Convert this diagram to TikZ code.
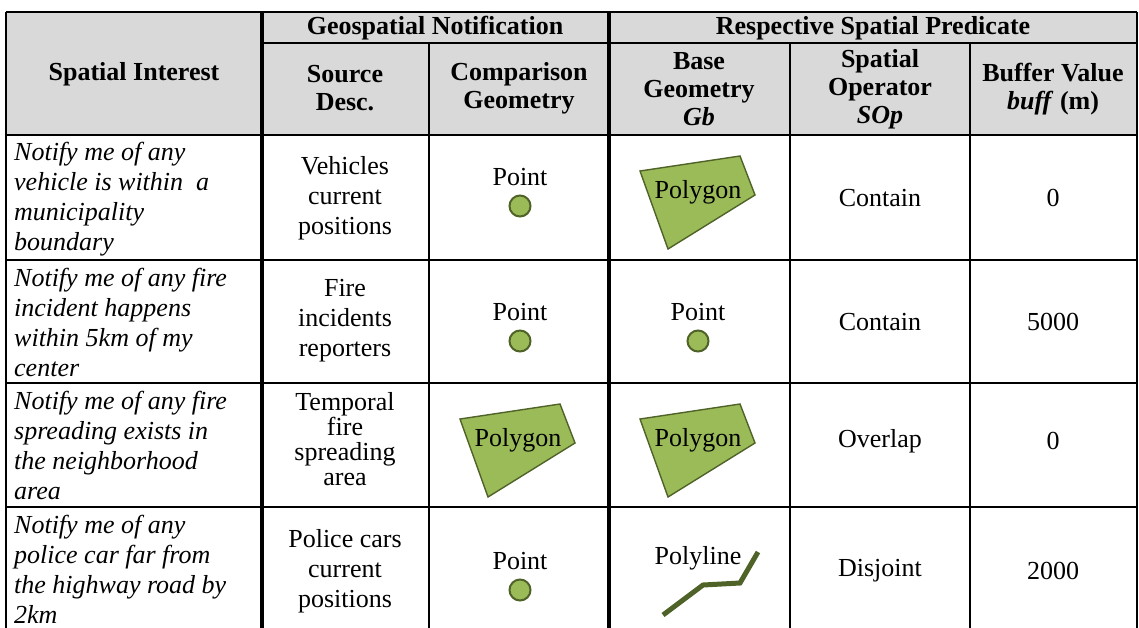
\documentclass[tikz,border=0pt]{standalone}
\usepackage{fontspec}
\setmainfont{Liberation Serif}
\definecolor{hdrgray}{HTML}{D9D9D9}
\definecolor{geofill}{HTML}{9BBB59}
\definecolor{geoline}{HTML}{4F6228}
\tikzset{
  cell/.style={align=center,inner sep=0pt,font=\fontsize{26}{30}\selectfont},
  hdr/.style={align=center,inner sep=0pt,font=\fontsize{26}{28}\selectfont\bfseries},
  ask/.style={align=left,anchor=west,inner sep=0pt,font=\fontsize{26}{30}\selectfont\itshape},
  gpoint/.style={circle,draw=geoline,fill=geofill,line width=2pt,minimum size=21pt,inner sep=0pt},
  rule/.style={line width=2pt},
  thickrule/.style={line width=3.2pt},
  pics/gpoly/.style={code={
    \draw[geoline,fill=geofill,line width=1.4pt] (-58,-21) -- (42,-36) -- (57,3) -- (-30,57) -- cycle;
    \node[cell] (-txt) at (0,0) {Polygon};}},
  pics/gline/.style={code={
    \draw[geoline,line width=5pt] (-35,57) -- (5,27) -- (42,25) -- (60,-6);
    \node[cell] (-txt) at (0,0) {Polyline};}},
}
\begin{document}
\begin{tikzpicture}[x=1pt,y=-1pt]
\useasboundingbox (0,0) rectangle (1139,627);
% header background
\fill[hdrgray] (6,12) rectangle (1137,135);
% rules
\draw[rule] (6,12) -- (1137,12);
\draw[rule] (262,43) -- (1137,43);
\foreach \y in {135,260,383,507}
  \draw[rule] (6,\y) -- (1137,\y);
\foreach \x in {6,1137}
  \draw[rule] (\x,12) -- (\x,630);
\foreach \x in {429,790,970}
  \draw[rule] (\x,43) -- (\x,630);
\foreach \x in {262,609}
  \draw[thickrule] (\x,12) -- (\x,630);

% header
\node[hdr] (interest) at (134,74) {Spatial Interest};
\node[hdr] (notif) at (435,28) {Geospatial Notification};
\node[hdr] (pred) at (873,28) {Respective Spatial Predicate};
\node[hdr] (src) at (345,88) {Source\\Desc.};
\node[hdr] (cmp) at (519,88) {Comparison\\Geometry};
\node[hdr] (base) at (699,89) {Base\\Geometry\\\textit{Gb}};
\node[hdr] (sop) at (880,89) {Spatial\\Operator\\\textit{SOp}};
\node[hdr] (buff) at (1053,89) {Buffer Value\\\textit{buff} (m)};

% row 1
\node[ask] (askA) at (14,199) {Notify me of any\\vehicle is within~ a\\municipality\\boundary};
\node[cell] (srcA) at (345,198) {Vehicles\\current\\positions};
\node[cell] (cmpA) at (520,177) {Point};
\node[gpoint] (cmpAdot) at (520,206) {};
\pic (baseA) at (698,192) {gpoly};
\node[cell] (sopA) at (880,198) {Contain};
\node[cell] (buffA) at (1053,198) {0};

% row 2
\node[ask] (askB) at (14,322) {Notify me of any fire\\incident happens\\within 5km of my\\center};
\node[cell] (srcB) at (345,321) {Fire\\incidents\\reporters};
\node[cell] (cmpB) at (520,312) {Point};
\node[gpoint] (cmpBdot) at (520,341) {};
\node[cell] (baseB) at (698,312) {Point};
\node[gpoint] (baseBdot) at (698,341) {};
\node[cell] (sopB) at (880,322) {Contain};
\node[cell] (buffB) at (1053,322) {5000};

% row 3
\node[ask] (askC) at (14,445) {Notify me of any fire\\spreading exists in\\the neighborhood\\area};
\node[cell,font=\fontsize{26}{25}\selectfont] (srcC) at (345,439) {Temporal\\fire\\spreading\\area};
\pic (cmpC) at (518,440) {gpoly};
\pic (baseC) at (698,440) {gpoly};
\node[cell] (sopC) at (880,441) {Overlap};
\node[cell] (buffC) at (1053,441) {0};

% row 4
\node[ask] (askD) at (14,569) {Notify me of any\\police car far from\\the highway road by\\2km};
\node[cell] (srcD) at (345,571) {Police cars\\current\\positions};
\node[cell] (cmpD) at (520,561) {Point};
\node[gpoint] (cmpDdot) at (520,590) {};
\pic (baseD) at (698,558) {gline};
\node[cell] (sopD) at (880,571) {Disjoint};
\node[cell] (buffD) at (1053,571) {2000};
\end{tikzpicture}
\end{document}
